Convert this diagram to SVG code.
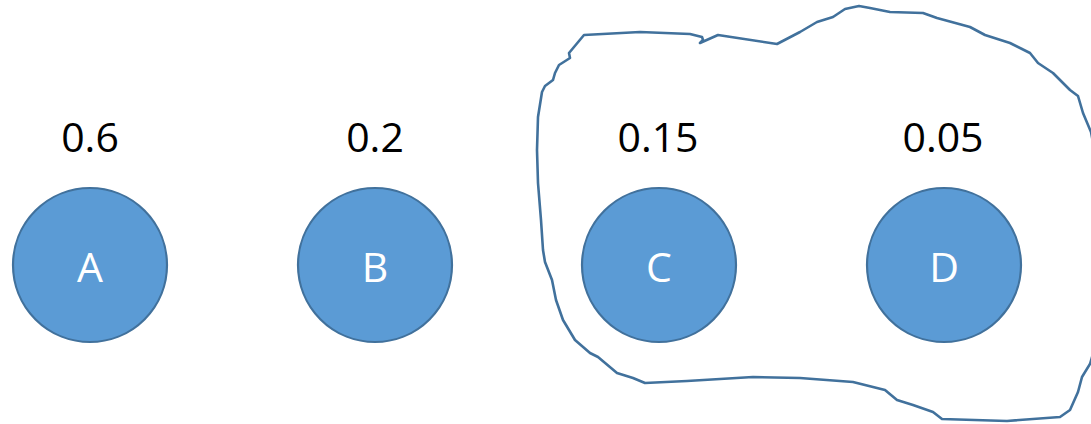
<svg xmlns="http://www.w3.org/2000/svg" width="1091" height="424" viewBox="0 0 1091 424">
  <style>
    .node circle { fill: #5B9BD5; stroke: #41719C; stroke-width: 2.2; }
    .letter { font-family: "Open Sans", "Liberation Sans", sans-serif; font-size: 41px; fill: #FFFFFF; text-anchor: middle; }
    .prob { font-family: "Open Sans", "Liberation Sans", sans-serif; font-size: 41px; fill: #000000; text-anchor: middle; }
    .lasso { fill: none; stroke: #41719C; stroke-width: 2.6; stroke-linejoin: round; stroke-linecap: round; }
  </style>
  <rect width="1091" height="424" fill="#FFFFFF"/>

  <!-- freehand outline grouping C and D -->
  <g id="connectors">
    <path class="lasso" d="M584,35 L640,32 L690,34 L702,37 L703,40 L700,43 L718,35 L777,44 L800,32 L817,22 L833,17 L845,9 L859,6 L870,8 L890,12 L923,13 L937,18 L970,27 L985,35 L1010,43 L1030,53 L1038,63 L1053,73 L1070,90 L1078,96 L1083,113 L1091,132 L1100,180 L1102,260 L1100,330 L1090,364 L1082,377 L1078,392 L1070,410 L1060,417 L1007,421 L942,419 L933,412 L913,405 L897,400 L885,390 L853,382 L800,378 L753,377 L687,381 L645,383 L633,378 L617,373 L598,357 L590,353 L575,340 L563,320 L556,300 L552,280 L545,262 L543,250 L541,220 L538,183 L537,150 L538,117 L542,92 L545,86 L553,80 L555,73 L559,65 L570,58 L569,53 Z"/>
  </g>

  <g id="node-A" class="node">
    <text class="prob" x="90" y="152">0.6</text>
    <circle cx="90" cy="265" r="77"/>
    <text class="letter" x="90" y="282">A</text>
  </g>
  <g id="node-B" class="node">
    <text class="prob" x="375" y="152">0.2</text>
    <circle cx="375" cy="265" r="77"/>
    <text class="letter" x="375" y="282">B</text>
  </g>
  <g id="node-C" class="node">
    <text class="prob" x="658" y="152">0.15</text>
    <circle cx="659" cy="265" r="77"/>
    <text class="letter" x="659" y="282">C</text>
  </g>
  <g id="node-D" class="node">
    <text class="prob" x="943" y="152">0.05</text>
    <circle cx="944" cy="265" r="77"/>
    <text class="letter" x="944" y="282">D</text>
  </g>
</svg>
